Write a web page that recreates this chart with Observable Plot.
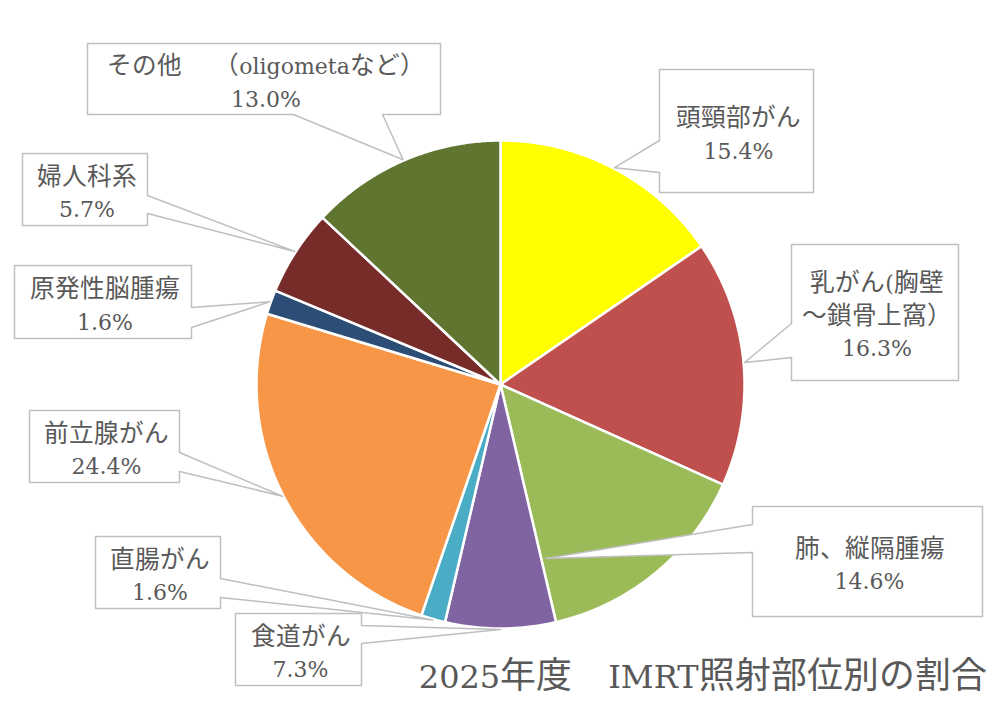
<!DOCTYPE html>
<html>
<head>
<meta charset="utf-8">
<script src="https://cdn.jsdelivr.net/npm/d3@7"></script>
<script src="https://cdn.jsdelivr.net/npm/@observablehq/plot@0.6"></script>
<style>
  @font-face {
    font-family: "CJKWide";
    src: local("Noto Sans CJK JP"), local("Noto Sans CJK JP Regular"), local("NotoSansCJKjp-Regular"), local("NotoSansCJKJP-Regular");
    size-adjust: 112%;
    unicode-range: U+3000-30FF, U+3400-4DBF, U+4E00-9FFF, U+FF00-FFEF;
  }
  html, body { margin: 0; padding: 0; background: #ffffff; }
  #chart { width: 1000px; height: 701px; }
</style>
</head>
<body>
<div id="chart"></div>
<script>
// ---- data ----
const categories = ["頭頸部がん", "乳がん(胸壁～鎖骨上窩）", "肺、縦隔腫瘍", "食道がん", "直腸がん", "前立腺がん", "原発性脳腫瘍", "婦人科系", "その他　 （oligometaなど）"];
const values = [15.4, 16.3, 14.6, 7.3, 1.6, 24.4, 1.6, 5.7, 13.0];
const colors = ["#FFFF00", "#C0504D", "#9BBB59", "#8064A2", "#4BACC6", "#F79646", "#2C4D75", "#772C2A", "#5F7530"];
const title = "2025年度　IMRT照射部位別の割合";

// ---- layout (pixels) ----
const W = 1000, H = 701, CX = 500, CY = 384, R = 244;
const callouts = [
  { box: [659, 69, 813, 192], side: "left",   edge: [140, 172] },
  { box: [791, 244, 958, 380], side: "left",  edge: [323, 357], breakAt: 6 },
  { box: [752, 506, 982, 616], side: "left",  edge: [524, 552], tip: [545, 558] },
  { box: [235, 613, 361, 685], side: "right", edge: [625, 643] },
  { box: [95, 536, 220, 608], side: "right",  edge: [578, 597] },
  { box: [29, 410, 179, 482], side: "right",  edge: [452, 471] },
  { box: [14, 265, 191, 338], side: "right",  edge: [307, 327] },
  { box: [22, 153, 147, 225], side: "right",  edge: [195, 213] },
  { box: [87, 43, 440, 114], side: "bottom",  edge: [293, 382] }
];
const FONT = "'DejaVu Serif', 'CJKWide', 'Noto Sans CJK JP', serif";
const TEXT_COLOR = "#595959";

// ---- build geometry from data ----
const arcs = d3.pie().sort(null).value(d => d)(values);
const px = a => CX + R * Math.sin(a);
const py = a => CY - R * Math.cos(a);

const slicePts = [];
arcs.forEach((a, i) => {
  const cat = categories[i];
  slicePts.push({ cat, x: CX, y: CY });
  const n = Math.max(4, Math.ceil((a.endAngle - a.startAngle) / (Math.PI / 360)));
  for (let k = 0; k <= n; k++) {
    const t = a.startAngle + (a.endAngle - a.startAngle) * k / n;
    slicePts.push({ cat, x: px(t), y: py(t) });
  }
});

const calloutPts = [];
const labels = [];
arcs.forEach((a, i) => {
  const c = callouts[i];
  const mid = (a.startAngle + a.endAngle) / 2;
  const tip = c.tip || [CX + (R + 1) * Math.sin(mid), CY - (R + 1) * Math.cos(mid)];
  const [L, T, Rr, B] = c.box;
  const [e1, e2] = c.edge;
  let pts;
  if (c.side === "left") pts = [[L, T], [Rr, T], [Rr, B], [L, B], [L, e2], tip, [L, e1]];
  else if (c.side === "right") pts = [[L, T], [Rr, T], [Rr, e1], tip, [Rr, e2], [Rr, B], [L, B]];
  else pts = [[L, T], [Rr, T], [Rr, B], [e2, B], tip, [e1, B], [L, B]];
  pts.forEach(p => calloutPts.push({ id: i, x: p[0], y: p[1] }));
  let name = categories[i];
  if (c.breakAt) name = name.slice(0, c.breakAt) + "\n" + name.slice(c.breakAt);
  labels.push({ x: (L + Rr) / 2 + 2, y: (T + B) / 2 + 1, text: name + "\n" + values[i].toFixed(1) + "%" });
});

const chart = Plot.plot({
  width: W,
  height: H,
  margin: 0,
  x: { domain: [0, W], range: [0, W], axis: null },
  y: { domain: [0, H], range: [0, H], axis: null },
  color: { domain: categories, range: colors },
  style: { background: "#ffffff", fontFamily: FONT },
  marks: [
    Plot.line(slicePts, { x: "x", y: "y", z: "cat", fill: "cat", stroke: "#ffffff", strokeWidth: 2.5, curve: "linear-closed", strokeLinejoin: "round" }),
    Plot.line(calloutPts, { x: "x", y: "y", z: "id", fill: "#ffffff", stroke: "#BFBFBF", strokeWidth: 1.5, curve: "linear-closed" }),
    Plot.text(labels, { x: "x", y: "y", text: "text", fontSize: 22, lineHeight: 1.48, fill: TEXT_COLOR, fontFamily: FONT, textAnchor: "middle" }),
    Plot.text([title], { frameAnchor: "bottom-right", dx: -14, dy: -14, fontSize: 32, fill: TEXT_COLOR, fontFamily: FONT, textAnchor: "end" })
  ]
});
document.getElementById("chart").appendChild(chart);
</script>
</body>
</html>
